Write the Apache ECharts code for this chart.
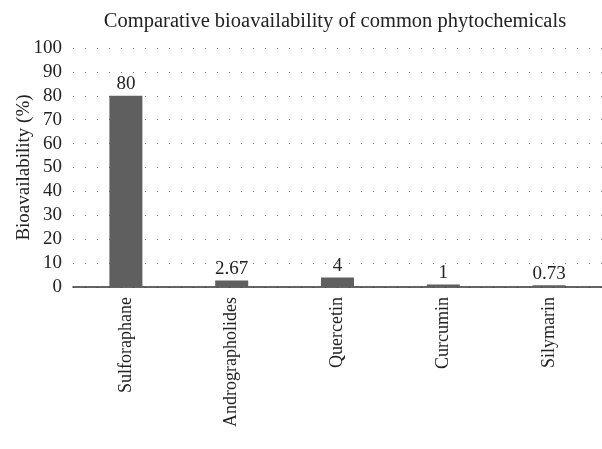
<!DOCTYPE html>
<html><head><meta charset="utf-8">
<script src="https://cdn.jsdelivr.net/npm/echarts@6/dist/echarts.min.js"></script>
<style>html,body{margin:0;padding:0;background:#fff}#c{width:602px;height:449px}</style>
</head><body><div id="c"></div>
<script>
const categories = ["Sulforaphane", "Andrographolides", "Quercetin", "Curcumin", "Silymarin"];
const values = [80, 2.67, 4, 1, 0.73];
const yTicks = [0, 10, 20, 30, 40, 50, 60, 70, 80, 90, 100];
const titleText = "Comparative bioavailability of common phytochemicals";
const yName = "Bioavailability (%)";

const font = "Liberation Serif";
const chart = echarts.init(document.getElementById('c'), null, {renderer: 'canvas'});
chart.setOption({
  animation: false,
  title: {text: titleText, left: 330, textAlign: 'center', top: 6, textStyle: {fontFamily: font, fontSize: 20.5, fontWeight: 'normal', color: '#222'}},
  grid: {left: 73, right: 0, top: 48, bottom: 162, containLabel: false, outerBoundsMode: 'none'},
  xAxis: {
    type: 'category', data: categories,
    axisLine: {lineStyle: {color: '#333', width: 1.5}},
    axisTick: {show: false},
    axisLabel: {rotate: 90, fontFamily: font, fontSize: 18, color: '#222', margin: 10, interval: 0}
  },
  yAxis: {
    type: 'value', min: yTicks[0], max: yTicks[yTicks.length - 1], interval: 10,
    name: yName, nameLocation: 'middle', nameGap: 39, nameRotate: 90, nameMoveOverlap: false,
    nameTextStyle: {fontFamily: font, fontSize: 19, color: '#222'},
    axisLine: {show: false}, axisTick: {show: false},
    axisLabel: {fontFamily: font, fontSize: 19, color: '#222', margin: 11},
    splitLine: {show: true, lineStyle: {color: '#777', type: [1, 11], width: 1}}
  },
  series: [{
    type: 'bar', data: values, barWidth: 33,
    itemStyle: {color: '#5f5f5f'},
    label: {show: true, position: 'top', distance: 2, fontFamily: font, fontSize: 19, color: '#222'}
  }]
});
</script></body></html>
